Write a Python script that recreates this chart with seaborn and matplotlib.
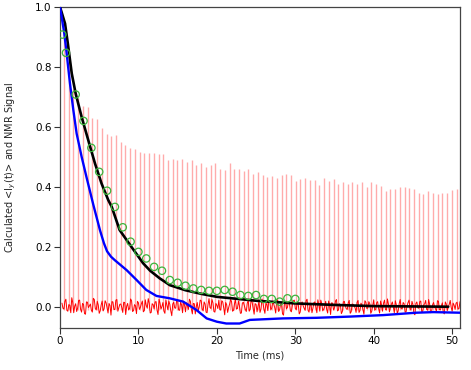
import numpy as np
import matplotlib
matplotlib.use("Agg")
import matplotlib.pyplot as plt
import seaborn as sns

# ---- data ----
echo_t = [0.51, 1.11, 1.72, 2.32, 2.92, 3.53, 4.13, 4.73, 5.33, 5.94, 6.54, 7.14, 7.75, 8.35,
          8.95, 9.56, 10.16, 10.76, 11.36, 11.97, 12.57, 13.17, 13.78, 14.38, 14.98, 15.59,
          16.19, 16.79, 17.39, 18.00, 18.60, 19.20, 19.81, 20.41, 21.01, 21.62, 22.22, 22.82,
          23.42, 24.03, 24.63, 25.23, 25.84, 26.44, 27.04, 27.65, 28.25, 28.85, 29.45, 30.06,
          30.66, 31.26, 31.87, 32.47, 33.07, 33.68, 34.28, 34.88, 35.48, 36.09, 36.69, 37.29,
          37.90, 38.50, 39.10, 39.71, 40.31, 40.91, 41.51, 42.12, 42.72, 43.32, 43.93, 44.53,
          45.13, 45.74, 46.34, 46.94, 47.54, 48.15, 48.75, 49.35, 49.96, 50.56]
echo_h = [0.92, 0.82, 0.728, 0.695, 0.669, 0.665, 0.628, 0.625, 0.595, 0.575, 0.569, 0.572,
          0.55, 0.539, 0.531, 0.526, 0.517, 0.513, 0.513, 0.513, 0.511, 0.509, 0.491, 0.494,
          0.491, 0.492, 0.483,
          0.489, 0.472, 0.478, 0.465, 0.474, 0.478, 0.461, 0.457, 0.48, 0.458, 0.458, 0.453,
          0.458, 0.442, 0.45, 0.441, 0.433, 0.437, 0.428, 0.439, 0.444, 0.441, 0.419, 0.426,
          0.431, 0.422, 0.422, 0.406,
          0.428, 0.419, 0.426, 0.409, 0.415, 0.411, 0.417, 0.411, 0.415, 0.4, 0.417, 0.409,
          0.402, 0.386, 0.394, 0.392, 0.398, 0.398, 0.395, 0.393, 0.38, 0.375, 0.385, 0.38,
          0.377, 0.381, 0.378, 0.388, 0.393]

# baseline noise of the NMR trace (thousandths): samples A at 0.25 ms steps from 0.25 ms,
# samples B half-way between them
noise_dt = 0.25
noise_a = [
    12, -8, 25, -15, 5, 30, -20, 10, -5, 22, -18, 8, -25, 15, 3, -12, 28, -6, 18, -22,
    6, -14, 20, -3, 11, -28, 16, -9, 24, -4, 9, -19, 14, 2, -11, 26, -16, 7, -23, 13,
    -2, 19, -13, 4, 27, -21, 10, -7, 17, -26, 12, 1, -15, 23, -10, 8, -30, 15, -5, 21,
    -12, 6, 18, -17, 3, 25, -8, 11, -24, 14, -1, 20, -14, 9, -20, 27, -6, 13, -18, 5,
    22, -11, 16, -27, 7, -3, 24, -15, 10, -8, 19, -22, 12, 4, -16, 21, -9, 15, -25, 8,
    2, -19, 26, -7, 13, -13, 18, -4, 9, -21, 23, -10, 6, -28, 17, -2, 11, -17, 20, -6,
    14, -24, 8, 3, -12, 25, -18, 10, -5, 16, -20, 7, 22, -14, 1, -9, 19, -26, 12, -3,
    24, -11, 5, -16, 18, -7, 13, -22, 9, 2, -19, 21, -13, 6, -25, 15, -4, 10, -15, 23,
    -8, 17, -21, 4, 12, -10, 26, -17, 8, -2, 20, -23, 11, -6, 14, -18, 3, 22, -12, 7,
    -27, 16, -5, 19, -14, 10, -9, 24, -20, 6, 1, -16, 18, -11, 13, -24, 9, -3, 21, -15,
    5, 12, -8, 17]
noise_b = [
    -5, 18, -12, 7, -20, 14, 2, -16, 21, -9, 11, -23, 16, -3, 9, -18, 24, -11, 6, -14,
    19, -7, 13, -21, 4, 17, -10, 22, -15, 8, -2, 15, -26, 11, -6, 20, -13, 3, 18, -9,
    10, -17, 23, -5, 12, -19, 7, 16, -12, 25, -8, 14, -22, 5, 19, -14, 9, -4, 21, -11,
    15, -20, 6, 13, -9, 18, -24, 10, 1, -13, 22, -7, 16, -18, 8, -3, 24, -16, 11, -6,
    -10, 20, -4, 14, -19, 9, 17, -12, 23, -6, 3, -21, 15, -9, 12, -15, 25, -5, 10, -17,
    18, -8, 12, -22, 6, 21, -11, 15, -3, 19, -16, 8, -24, 13, -7, 17, -13, 4, 22, -10,
    9, -18, 16, -5, 20, -12, 7, -20, 14, -1, 23, -15, 11, -8, 18, -21, 6, 13, -11, 19,
    -14, 10, -23, 16, 3, -9, 21, -17, 8, -4, 15, -19, 12, -10, 20, -6, 17, -22, 5, -12,
    13, -7, 19, -15, 22, -11, 9, -2, 16, -20, 7, -13, 24, -8, 10, -17, 14, -5, 18, -23,
    11, -4, 17, -18, 6, 21, -12, 9, -16, 14, -7, 20, -10, 3, -19, 16, -13, 8, -2, 12,
    -9, 15, -6, 10]

black_t = [0, 0.2, 0.64, 1.0, 1.5, 2.0, 2.76, 3.6, 4.46, 5.3, 6.15, 6.6, 7.6, 9.1, 10.6,
           11.5, 12.7, 14, 16, 18, 20, 25, 30, 35, 40, 45, 49.5]
black_y = [1.0, 0.983, 0.945, 0.878, 0.778, 0.711, 0.633, 0.556, 0.478, 0.411, 0.356,
           0.333, 0.256, 0.2, 0.145, 0.12, 0.095, 0.072, 0.055, 0.043, 0.033, 0.02, 0.011,
           0.006, 0.002, 0.001, 0.0]

blue_t = [0, 0.21, 0.55, 0.85, 1.27, 1.7, 2.12, 2.76, 3.4, 4.25, 5.1, 5.6, 6.0, 6.5, 7.0,
          8.5, 9.77, 11.0, 12.3, 14.0, 15.7, 17.4, 18.7, 20, 21.2, 22.9, 24.2, 28.4, 32.7,
          36.9, 41.2, 45.4, 47.6, 51]
blue_y = [1.0, 0.967, 0.911, 0.845, 0.745, 0.656, 0.578, 0.5, 0.43, 0.34, 0.255, 0.212,
          0.185, 0.167, 0.155, 0.122, 0.089, 0.056, 0.036, 0.028, 0.017, -0.011, -0.039,
          -0.05, -0.056, -0.056, -0.044, -0.039, -0.037, -0.033, -0.028, -0.02, -0.018, -0.02]

circ_t = [0.3, 0.76, 2, 3, 4, 5, 6, 7, 8, 9, 10, 11, 12, 13, 14, 15, 16, 17, 18, 19, 20, 21,
          22, 23, 24, 25, 26, 27, 28, 29, 30]
circ_y = [0.908, 0.847, 0.708, 0.62, 0.53, 0.45, 0.387, 0.333, 0.265, 0.217, 0.183, 0.161,
          0.133, 0.12, 0.089, 0.08, 0.07, 0.061, 0.056, 0.053, 0.053, 0.056, 0.05, 0.039,
          0.036, 0.039, 0.026, 0.026, 0.017, 0.028, 0.026]

x_ticks = [0, 10, 20, 30, 40, 50]
y_ticks = [0.0, 0.2, 0.4, 0.6, 0.8, 1.0]
y_tick_labels = ["0.0", "0.2", "0.4", "0.6", "0.8", "1.0"]

# ---- plot ----
sns.set_theme(style="white")
plt.rcParams["font.family"] = ["DejaVu Sans"]

fig = plt.figure(figsize=(4.71, 3.70), dpi=100)
ax = fig.add_axes([60 / 471, 1 - 328 / 370, 400 / 471, 321 / 370])

ax.vlines(echo_t, -0.01, echo_h, colors="#ff0000", alpha=0.33, linewidth=1.0, zorder=1)

n = len(noise_a)
noise_t = np.empty(2 * n)
noise_v = np.empty(2 * n)
noise_t[0::2] = noise_dt * (np.arange(n) + 1)
noise_t[1::2] = noise_dt * (np.arange(n) + 1) + noise_dt / 2
noise_v[0::2] = np.array(noise_a) / 1000.0
noise_v[1::2] = np.array(noise_b) / 1000.0
sns.lineplot(x=noise_t, y=noise_v, ax=ax, color="#ff0000", linewidth=0.7, sort=False,
             estimator=None, zorder=2)
sns.lineplot(x=black_t, y=black_y, ax=ax, color="black", linewidth=1.9, zorder=3)
sns.lineplot(x=blue_t, y=blue_y, ax=ax, color="#0000ff", linewidth=1.7, zorder=4)
sns.scatterplot(x=circ_t, y=circ_y, ax=ax, marker="o", s=28, facecolors="none",
                edgecolor="#3cb43c", linewidth=0.9, zorder=5)

ax.set_xlim(0, 51)
ax.set_ylim(-0.071, 1.0)
ax.set_xticks(x_ticks)
ax.set_yticks(y_ticks)
ax.set_yticklabels(y_tick_labels)
ax.tick_params(axis="both", direction="out", length=4, width=0.8, colors="#333333",
               labelsize=7.5, labelcolor="black", pad=2)
ax.tick_params(bottom=True, left=True)
for s in ax.spines.values():
    s.set_color("#444444")
    s.set_linewidth(0.9)
ax.set_xlabel("Time (ms)", fontsize=7, labelpad=3)
ax.set_ylabel(r"Calculated <I$_y$(t)> and NMR Signal", fontsize=7, labelpad=12)
ax.grid(False)

fig.savefig("out.png", dpi=100)
